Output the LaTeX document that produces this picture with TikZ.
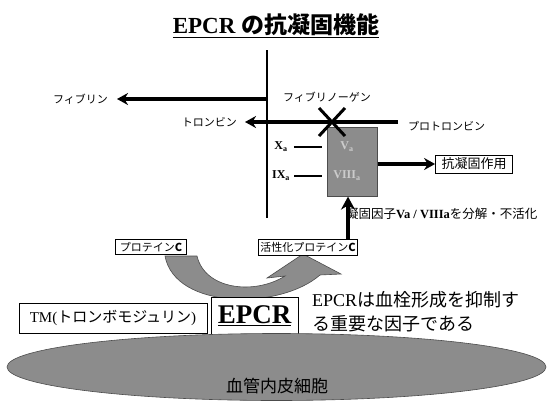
\documentclass[tikz,border=0pt]{standalone}
\usepackage{fontspec}
\setmainfont{Liberation Serif}
\newfontfamily\jp{Noto Sans CJK JP}
\usetikzlibrary{arrows.meta,shapes.geometric}
\begin{document}
\begin{tikzpicture}[x=1pt,y=-1pt,
  lbl/.style={font=\jp\fontsize{11}{13}\selectfont, inner sep=0pt},
  boxed/.style={draw, line width=0.8pt, fill=white, inner sep=2pt},
  bigarrow/.style={line width=3.5pt, -{Stealth[length=11pt,width=12pt]}},
  shadefill/.style={fill=black!45, draw=black!70, line width=0.6pt},
  faint/.style={text=white!80!black, font=\bfseries\fontsize{12}{12}\selectfont, inner sep=0pt},
  factor/.style={font=\bfseries\fontsize{12}{12}\selectfont, inner sep=0pt}
]
\useasboundingbox (0,0) rectangle (552,402);

% title
\node[inner sep=0pt] (title) at (276,26) {\underline{\fontsize{23}{26}\selectfont\bfseries EPCR {\jp\bfseries の抗凝固機能}}};

% vertical membrane line
\coordinate (vt) at (267,50);
\coordinate (vb) at (267,218);
\draw[line width=1.5pt] (vt) -- (vb);

% fibrinogen -> fibrin
\node[lbl, anchor=east] (fibrin) at (108,99) {フィブリン};
\node[lbl, anchor=west] (fibrinogen) at (283,97) {フィブリノーゲン};
\coordinate (fs) at (267,99);
\draw[bigarrow, shorten >=9pt] (fs) -- (fibrin);

% prothrombin -> thrombin
\node[lbl, anchor=east] (thrombin) at (237,122) {トロンビン};
\node[lbl, anchor=west] (prothrombin) at (408,126) {プロトロンビン};
\coordinate (ps) at (398,122);
\draw[bigarrow, shorten >=8pt] (ps) -- (thrombin);

% complex box
\node[shadefill, anchor=north west, minimum width=50pt, minimum height=69pt, inner sep=0pt] (cplx) at (327,127) {};
\node[faint] (va) at (347,147) {V\textsubscript{a}};
\node[faint] (viiia) at (347,176) {VIII\textsubscript{a}};
\node[factor] (xa) at (281,147) {X\textsubscript{a}};
\node[factor] (ixa) at (281,176) {IX\textsubscript{a}};
\draw[line width=2pt, shorten <=6pt, shorten >=5pt] (xa.east) -- (xa.east -| cplx.west);
\draw[line width=2pt, shorten <=4pt, shorten >=5pt] (ixa.east) -- (ixa.east -| cplx.west);

% X mark
\coordinate (xm) at (332,122);
\draw[line width=3pt] ([shift={(-13,-14)}]xm) -- ([shift={(13,14)}]xm)
                      ([shift={(13,-14)}]xm) -- ([shift={(-13,14)}]xm);

% anticoagulant effect
\node[boxed, font=\jp\fontsize{13}{15}\selectfont, inner xsep=6pt, inner ysep=3pt] (anti) at (474,164) {抗凝固作用};
\draw[bigarrow] (cplx.east |- anti) -- (anti.west);

% curved arrow protein C -> activated protein C
\draw[shadefill] (165,256) .. controls (175,310) and (280,310) .. (320,275)
   -- (341,274) -- (303,254) -- (267,278) -- (285,276)
   .. controls (255,295) and (205,290) .. (197,256) -- cycle;

% protein C boxes
\node[boxed, font=\jp\fontsize{11}{13}\selectfont, inner xsep=4pt, inner ysep=3pt] (pc) at (151,247) {プロテイン\textbf{C}};
\node[boxed, font=\jp\fontsize{11}{13}\selectfont, inner ysep=3pt] (apc) at (308,247) {活性化プロテイン\textbf{C}};

% degradation label and arrow
\node[inner sep=0pt, anchor=west, font=\jp\fontsize{12.5}{14}\selectfont] (degr) at (346,214) {凝固因子{\rmfamily\bfseries Va / VIIIa}を分解・不活化};
\draw[line width=4.5pt, -{Stealth[length=13pt,width=14pt]}] ([xshift=40pt]apc.north) -- ([xshift=40pt]apc.north |- cplx.south);

% TM and EPCR
\node[boxed, font=\fontsize{15}{17}\selectfont, minimum width=188pt, minimum height=30pt, inner sep=0pt] (tm) at (113,318) {TM({\jp トロンボモジュリン})};
\node[boxed, anchor=north west, minimum width=87pt, minimum height=41pt, inner sep=0pt] (epcr) at (211,297) {};
\node[inner sep=0pt, font=\bfseries\fontsize{27}{30}\selectfont] (epcrtext) at (254.5,316) {\underline{EPCR}};

\node[anchor=north west, align=left, inner sep=0pt, font=\fontsize{18}{24}\selectfont] (note) at (312,291) {EPCR{\jp は血栓形成を抑制す}\\{\jp る重要な因子である}};

% endothelium
\node[ellipse, shadefill, minimum width=539pt, minimum height=67pt, inner sep=0pt] (endo) at (276.5,367) {};
\node[inner sep=0pt, font=\jp\fontsize{17}{19}\selectfont] (endolabel) at (277,386) {血管内皮細胞};
\end{tikzpicture}
\end{document}
